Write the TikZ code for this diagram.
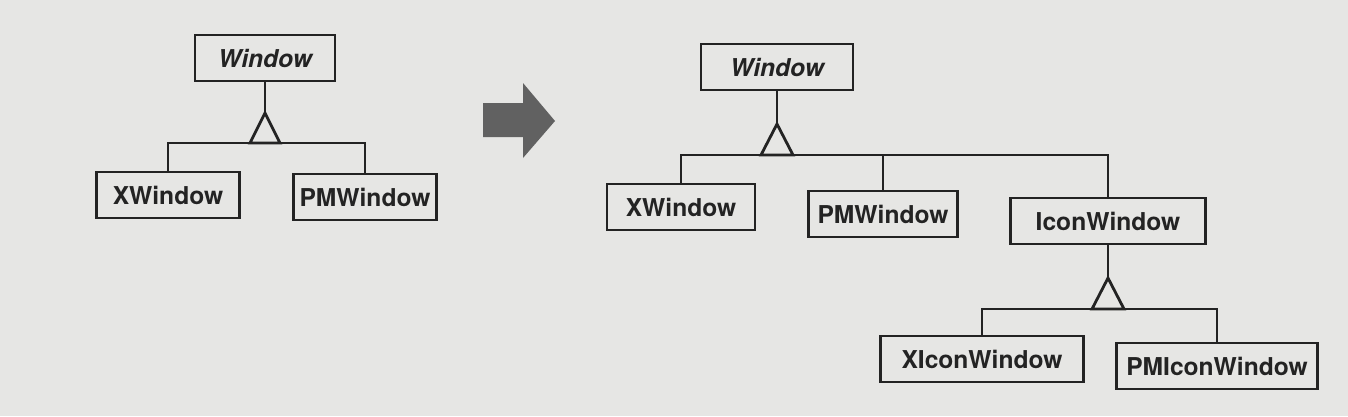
\documentclass[tikz,border=0pt]{standalone}
\usepackage{fontspec}
\setsansfont{TeX Gyre Heros}
\usepackage{tikz}
\usetikzlibrary{positioning, arrows.meta}
\definecolor{paper}{RGB}{230,230,228}
\definecolor{ink}{RGB}{35,35,35}

\tikzset{
  cls/.style={draw=ink, line width=1.6pt, fill=paper, minimum height=46*0.02cm, inner xsep=3pt,
    font=\sffamily\bfseries\fontsize{14}{16}\selectfont, text=ink},
  abscls/.style={cls, font=\sffamily\bfseries\itshape\fontsize{14}{16}\selectfont},
  link/.style={draw=ink, line width=1.6pt},
  inherit/.style={draw=ink, line width=1.6pt, line join=miter}
}

\begin{document}
\begin{tikzpicture}[x=0.02cm, y=-0.02cm]
% page
\fill[paper] (0,0) rectangle (1348,416);
\useasboundingbox (0,0) rectangle (1348,416);

% left hierarchy
\node[abscls, minimum width=140*0.02cm] (lwin) at (265,58) {Window};
\node[cls, minimum width=143*0.02cm] (lxwin) at (168,195) {XWindow};
\node[cls, minimum width=143*0.02cm] (lpmwin) at (365,197) {PMWindow};
\coordinate (ltip) at (265,113);
\coordinate (lbar) at (265,143);
\draw[link] (lwin.south) -- (ltip);
\draw[inherit] (ltip) -- ++(-15,30) -- ++(30,0) -- cycle;
\draw[link] (lxwin.north) |- (lbar) -| (lpmwin.north);

% big arrow
\fill[black!62] (483,103) -- (523,103) -- (523,83) -- (555,121) -- (523,158)
  -- (523,137) -- (483,137) -- cycle;

% right hierarchy
\node[abscls, minimum width=152*0.02cm] (rwin) at (777,67) {Window};
\node[cls, minimum width=148*0.02cm] (rxwin) at (681,207) {XWindow};
\node[cls, minimum width=149*0.02cm] (rpmwin) at (883,214) {PMWindow};
\node[cls, minimum width=195*0.02cm] (ricon) at (1108,221) {IconWindow};
\coordinate (rtip) at (777,124);
\coordinate (rbar) at (777,155);
\draw[link] (rwin.south) -- (rtip);
\draw[inherit] (rtip) -- ++(-16,31) -- ++(32,0) -- cycle;
\draw[link] (rxwin.north) |- (rbar) -| (ricon.north);
\draw[link] (rpmwin.north) -- (rpmwin.north |- rbar);

% icon windows
\node[cls, minimum width=203*0.02cm] (rxicon) at (982,359) {XIconWindow};
\node[cls, minimum width=201*0.02cm] (rpmicon) at (1217,366) {PMIconWindow};
\coordinate (itip) at (1108,278);
\coordinate (ibar) at (1108,309);
\draw[link] (ricon.south) -- (itip);
\draw[inherit] (itip) -- ++(-16,31) -- ++(32,0) -- cycle;
\draw[link] (rxicon.north) |- (ibar) -| (rpmicon.north);
\end{tikzpicture}
\end{document}
